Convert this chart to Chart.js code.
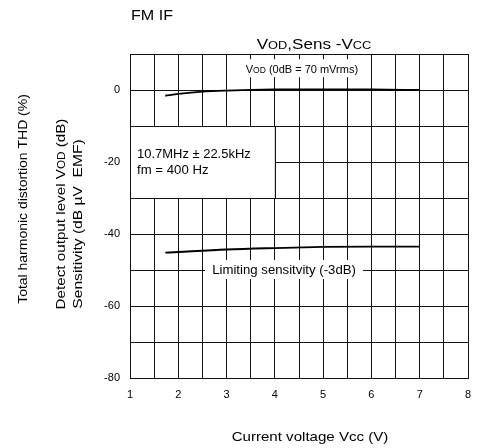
<!DOCTYPE html>
<html>
<head>
<meta charset="utf-8">
<script src="https://cdn.jsdelivr.net/npm/chart.js@4.4.1/dist/chart.umd.min.js"></script>
<style>
  html, body { margin: 0; padding: 0; background: #fff; }
  #wrap { width: 485px; height: 448px; }
</style>
</head>
<body>
<div id="wrap"><canvas id="grafico"></canvas></div>
<script>
const fonte = "'Liberation Sans', Arial, sans-serif";

// Vcc (V) and output level Vod (dB)
const vccVod = [1.73, 2, 2.5, 3, 4, 5, 6, 7];
const vod = [-1.6, -1.1, -0.45, -0.15, 0.15, 0.2, 0.15, 0];

// Vcc (V) and limiting sensitivity (dB uV EMF)
const vccSens = [1.73, 2, 3, 4, 5, 6, 7];
const sens = [-45.2, -45, -44.3, -43.9, -43.6, -43.5, -43.5];

const xTicks = [1, 2, 3, 4, 5, 6, 7, 8];
const yTicks = [0, -20, -40, -60, -80];

function pontos(xs, ys){
  return xs.map((v, i) => ({x: v, y: ys[i]}))
}

// text made of pieces with different sizes (small caps like VOD), k = horizontal stretch
function textoMisto(ctx, partes, x, y, align, k = 1){
  let total = 0
  partes.forEach(p => {
    ctx.font = `${p[1]}px ${fonte}`
    total += ctx.measureText(p[0]).width
  })
  let inicio = 0
  if (align === 'center') inicio = -total / 2
  if (align === 'right') inicio = -total
  ctx.save()
  ctx.translate(x, y)
  ctx.scale(k, 1)
  ctx.textAlign = 'left'
  ctx.textBaseline = 'alphabetic'
  partes.forEach(p => {
    ctx.font = `${p[1]}px ${fonte}`
    ctx.fillText(p[0], inicio, 0)
    inicio += ctx.measureText(p[0]).width
  })
  ctx.restore()
}

const anotacoes = {
  id: 'anotacoes',
  beforeDatasetsDraw(chart){
    const {ctx, scales: {x, y}} = chart
    ctx.save()

    // condition box, covers the grid
    const l = x.getPixelForValue(1), r = x.getPixelForValue(4)
    const t = y.getPixelForValue(-10), b = y.getPixelForValue(-30)
    ctx.fillStyle = '#fff'
    ctx.fillRect(l, t, r - l, b - t)
    ctx.strokeStyle = '#111'
    ctx.lineWidth = 1
    ctx.strokeRect(Math.round(l) + 0.5, Math.round(t) + 0.5, Math.round(r - l), Math.round(b - t))
    ctx.fillStyle = '#000'
    textoMisto(ctx, [['10.7MHz \u00b1 22.5kHz', 12]], l + 7, t + 32, 'left', 1.08)
    textoMisto(ctx, [['fm = 400 Hz', 12]], l + 7, t + 48, 'left', 1.1)

    // Vod label
    const vx = x.getPixelForValue(4.56), vy = y.getPixelForValue(5.5)
    ctx.fillStyle = '#fff'
    ctx.fillRect(vx - 61, vy - 11, 122, 18)
    ctx.fillStyle = '#000'
    textoMisto(ctx, [['V', 11], ['OD', 8.5], [' (0dB = 70 mVrms)', 11]], vx, vy + 3, 'center')

    // limiting sensitivity label
    const sx = x.getPixelForValue(4.19), sy = y.getPixelForValue(-50)
    ctx.fillStyle = '#fff'
    ctx.fillRect(sx - 79, sy - 10, 158, 19)
    ctx.fillStyle = '#000'
    textoMisto(ctx, [['Limiting sensitvity (-3dB)', 12]], sx, sy + 4, 'center', 1.1)
    ctx.restore()
  },
  afterDraw(chart){
    const {ctx} = chart
    ctx.save()
    ctx.fillStyle = '#000'
    textoMisto(ctx, [['FM IF', 14]], 131, 20, 'left', 1.15)
    textoMisto(ctx, [['V', 14], ['OD', 10.5], [',Sens -V', 14], ['CC', 10.5]], 314, 49, 'center', 1.22)
    textoMisto(ctx, [['Current voltage Vcc (V)', 13]], 310, 441, 'center', 1.16)

    const vertical = (partes, cx, cy, k) => {
      ctx.save()
      ctx.translate(cx, cy)
      ctx.rotate(-Math.PI / 2)
      textoMisto(ctx, partes, 0, 0, 'center', k)
      ctx.restore()
    }
    vertical([['Total harmonic distortion THD (%)', 13]], 27, 199, 1.075)
    vertical([['Detect output level V', 13], ['OD', 10], [' (dB)', 13]], 65, 214, 1.17)
    vertical([['Sensitivity (dB \u00b5V  EMF)', 13]], 82, 224, 1.2)
    ctx.restore()
  }
}

const grafico = new Chart(document.querySelector('#grafico'), {
  type: 'line',
  data: {
    datasets: [{
      label: 'Vod',
      data: pontos(vccVod, vod),
      borderColor: '#000',
      borderWidth: 1.8,
      pointRadius: 0,
      tension: 0.4,
      cubicInterpolationMode: 'monotone'
    }, {
      label: 'Sens',
      data: pontos(vccSens, sens),
      borderColor: '#000',
      borderWidth: 1.8,
      pointRadius: 0,
      tension: 0.4,
      cubicInterpolationMode: 'monotone'
    }]
  },
  options: {
    responsive: true,
    maintainAspectRatio: false,
    animation: false,
    events: [],
    layout: { padding: { top: 54, right: 17, left: 0, bottom: 0 } },
    plugins: { legend: { display: false }, tooltip: { enabled: false } },
    scales: {
      x: {
        type: 'linear',
        min: 1, max: 8,
        afterFit: s => { s.height = 70 },
        grid: { color: '#111', lineWidth: 1, drawTicks: false },
        border: { color: '#111' },
        ticks: {
          stepSize: 0.5,
          padding: 10,
          color: '#000',
          font: { family: fonte, size: 11 },
          maxRotation: 0,
          autoSkip: false,
          callback: v => xTicks.includes(v) ? String(v) : ''
        }
      },
      y: {
        min: -80, max: 10,
        afterFit: s => { s.width = 130 },
        grid: { color: '#111', lineWidth: 1, drawTicks: false },
        border: { color: '#111' },
        ticks: {
          stepSize: 10,
          padding: 10,
          color: '#000',
          font: { family: fonte, size: 11 },
          autoSkip: false,
          callback: v => yTicks.includes(v) ? String(v) : ''
        }
      }
    }
  },
  plugins: [anotacoes]
})
</script>
</body>
</html>
